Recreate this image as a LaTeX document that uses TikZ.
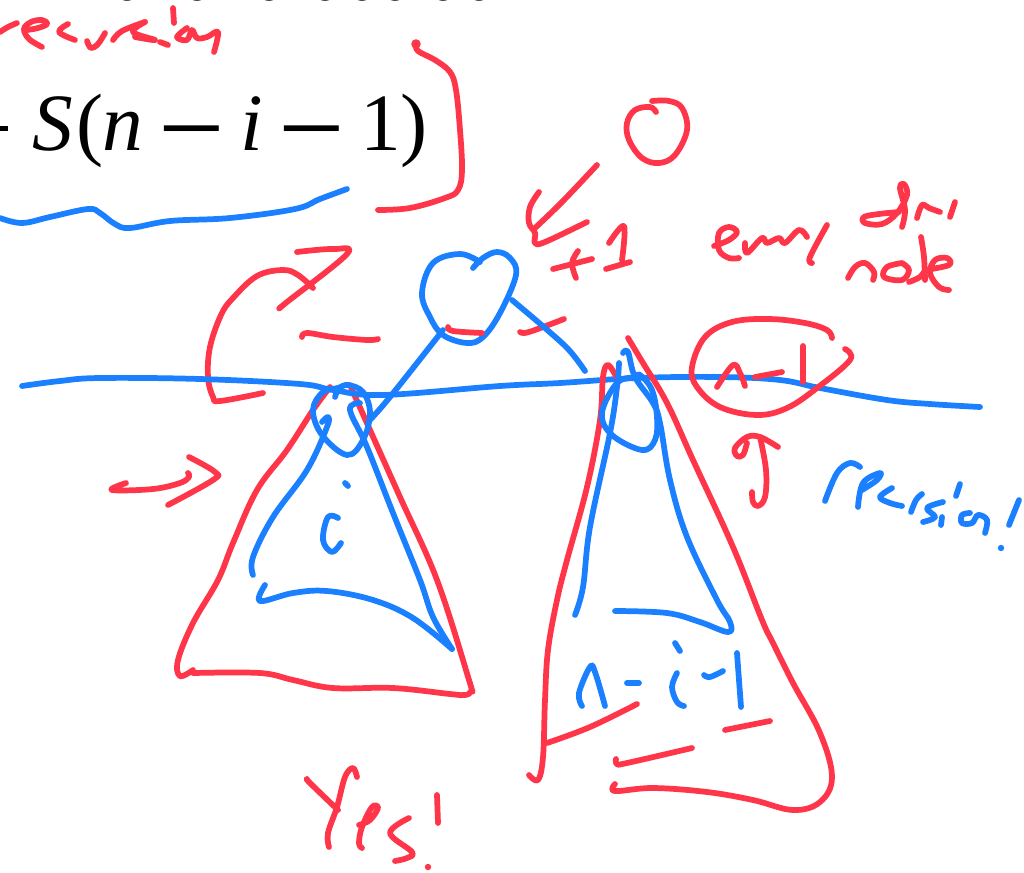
\documentclass[tikz,border=0pt]{standalone}
\usepackage{fontspec}
\setmainfont{Liberation Serif}
\definecolor{inkred}{HTML}{FF3549}
\definecolor{inkblue}{HTML}{1A80FF}
\tikzset{
  pen/.style={line width=4.3pt,line cap=round,line join=round},
  redink/.style={pen,draw=inkred},
  blueink/.style={pen,draw=inkblue},
  formula/.style={inner sep=0pt,font=\fontsize{61}{61}\selectfont,anchor=base west},
  cutmark/.style={fill=black!70},
}
\newcommand{\rs}[1]{\draw[redink] plot[smooth,tension=0.62] coordinates {#1};}
\newcommand{\bs}[1]{\draw[blueink] plot[smooth,tension=0.62] coordinates {#1};}
\newcommand{\widemin}{\scalebox{1.45}[1.4]{−}}
\begin{document}
\begin{tikzpicture}[x=0.75pt,y=-0.75pt]
\useasboundingbox (0,0) rectangle (1024,872);
\fill[white] (0,0) rectangle (1024,872);
% cut-off marks on the top edge
\foreach \mx in {127,197,269,325,362,395,443,479}
  \fill[cutmark] (\mx,-1) ellipse (5 and 2);
% formula
\fill[black] (0,125.5) rectangle (8,131);
\node[formula] (fS) at (32,150) {\textit{S}};
\node[formula] (fp) at (76,150) {(};
\node[formula] (fn) at (102,150) {\textit{n}};
\node[formula] (fm1) at (158,166) {\widemin};
\node[formula] (fi) at (240,150) {\textit{i}};
\node[formula] (fm2) at (278,166) {\widemin};
\node[formula] (f1) at (360,150) {1};
\node[formula] (fc) at (400,150) {)};
% "recursion"
\rs{(0,32)(8,27)(17,23)}
\rs{(27,30)(38,28)(47,24)(42,20)(31,22)(24,29)(29,39)(42,47)}
\rs{(68,24)(59,32)(75,40)}
\rs{(87,41)(91,48)(98,44)(105,33)}
\rs{(113,40)(122,31)(145,22)}
\rs{(145,22)(133,32)(155,40)(135,37)}
\rs{(160,42)(168,45)}
\rs{(173,8)(174,23)}
\rs{(187,28)(177,37)(187,40)(192,30)(197,38)(207,37)(218,32)(214,52)}
% bracket
\fill[inkred] (416,44) circle (4.8);
\rs{(416,44)(418,51)(435,60)(450,72)(456,90)(460,130)(462,170)(458,190)(445,198)(410,208)(378,210)}
% underbrace
\bs{(0,218)(22,223)(50,217)(88,209)(100,213)(115,224)(130,228)(170,221)(230,218)(295,209)(320,199)(347,189)}
% upper left curved arrow
\rs{(263,393)(220,401)(213,397)(208,377)(210,347)(221,315)(233,298)(257,276)(283,270)(298,275)(313,288)}
\rs{(297,252)(333,249)(347,254)(287,302)(280,308)}
\rs{(302,337)(307,333)(333,337)(367,340)(378,339)}
% left arrow
\rs{(126,483)(112,490)(153,489)(180,483)(189,477)(188,473)}
\rs{(189,457)(215,472)(213,480)(168,505)}
% left triangle red
\rs{(330,387)(313,410)(287,450)(257,490)(233,543)(218,580)(193,623)(178,660)(180,676)(193,670)}
\rs{(193,673)(260,673)(293,680)(333,688)(393,688)(450,694)(465,695)(471,691)(469,680)(437,580)(400,497)(370,430)(350,385)}
% parent heart
\bs{(473,268)(483,258)(497,252)(510,258)(516,275)(500,313)(483,337)(467,343)(443,335)(430,317)(422,293)(433,263)(460,254)(480,262)}
\rs{(448,327)(453,331)(482,333)}
\rs{(520,332)(529,332)(564,319)}
% horizontal line
\bs{(22,386)(60,381)(100,378)(200,379)(300,384)(333,390)(383,395)(500,386)(560,383)(637,378)(720,377)(780,380)(820,388)(887,400)(930,404)(980,407)}
% left child
\draw[blueink] plot[smooth cycle,tension=0.62] coordinates {(323,392)(313,410)(322,435)(347,455)(363,440)(370,413)(363,392)(348,385)(338,388)};
\bs{(338,388)(335,397)}
\bs{(322,422)(328,417)(327,427)(307,470)(273,517)(253,557)(253,575)}
\bs{(265,585)(260,601)(293,593)(327,591)(373,600)(413,618)(452,649)}
\bs{(360,403)(350,410)(367,447)(393,513)(420,580)(433,617)(452,649)}
\bs{(443,330)(390,397)(368,422)}
\bs{(338,518)(328,517)(323,540)(332,552)(341,543)}
\bs{(345,483)(348,486)}
\bs{(512,300)(545,328)(569,350)(585,371)}
% right triangle red
\rs{(617,378)(608,365)(603,377)(600,420)(587,487)(567,560)(557,600)(548,650)(545,700)(543,757)(538,780)(529,775)}
\rs{(547,743)(590,727)(637,704)}
\rs{(725,730)(770,721)}
\rs{(616,759)(617,764)(627,763)(692,748)}
\rs{(615,784)(615,791)(653,788)(707,792)(753,800)(793,810)(820,802)(832,777)(820,733)(793,683)(773,643)(762,620)(733,547)(693,460)(667,403)(643,363)(628,338)}
% right child
\draw[blueink] plot[smooth cycle,tension=0.62] coordinates {(635,377)(617,383)(602,413)(612,435)(642,450)(655,440)(657,417)(652,390)(640,375)};
\bs{(619,363)(617,387)(610,433)(590,527)(583,587)(575,615)}
\bs{(623,353)(628,352)(635,377)(653,403)(660,423)(670,480)(687,537)(717,600)(730,622)(728,632)(700,622)(667,613)(615,611)}
% n-i-1 blue
\bs{(582,706)(579,693)(590,667)(595,672)(605,706)}
\bs{(627,683)(639,683)}
\bs{(675,643)(680,651)}
\bs{(677,673)(672,687)(677,702)(684,706)}
\bs{(704,675)(710,677)(723,671)}
\bs{(737,653)(741,707)}
% Yes!
\rs{(307,779)(310,783)(338,810)}
\rs{(357,777)(353,768)(345,777)(337,807)(328,833)(329,847)}
\rs{(359,825)(370,820)(378,808)(372,807)(362,827)(359,843)(362,848)}
\rs{(409,818)(390,833)(412,852)(407,858)(395,861)}
\rs{(437,795)(438,823)}
\fill[inkred] (428,867) circle (3.2);
% top circle
\rs{(656,112)(650,107)(635,110)(627,123)(629,140)(642,158)(659,163)(675,155)(687,130)(682,108)(669,101)(652,101)}
% arrow down-left
\rs{(597,165)(562,202)(535,228)}
\rs{(539,192)(530,207)(529,223)(535,233)(535,243)(545,242)(587,222)}
% +1
\rs{(553,269)(592,259)}
\rs{(578,251)(572,263)(576,278)}
\rs{(609,243)(624,226)(622,260)}
\rs{(606,269)(630,262)}
% every
\rs{(714,246)(729,240)(737,232)(729,227)(719,233)(719,250)(729,258)(739,258)}
\rs{(745,243)(747,253)(762,238)(767,243)(779,238)(785,243)(799,230)(807,237)}
\rs{(827,225)(810,257)(812,263)}
% other
\rs{(899,212)(879,214)(864,217)(865,223)(882,224)(897,213)(907,195)(904,184)(900,188)(905,210)(902,227)}
\rs{(917,218)(922,205)(929,208)(940,212)}
\rs{(955,202)(950,217)}
% node
\rs{(848,278)(855,267)(865,263)(874,272)(873,280)}
\rs{(902,263)(887,267)(884,277)(902,280)(909,270)(902,263)}
\rs{(909,282)(920,277)(925,270)}
\rs{(921,237)(924,257)(925,280)}
\rs{(925,270)(949,265)(947,258)(935,260)(930,273)(939,287)(949,290)}
% ellipse
\rs{(832,338)(827,330)(805,323)(769,319)(732,322)(705,337)(692,367)(697,387)(720,407)(757,415)(787,408)(817,388)(850,360)(845,349)}
% n-1
\rs{(717,387)(733,365)(740,373)(745,386)}
\rs{(755,377)(782,372)}
\rs{(803,346)(803,382)}
% up arrow
\rs{(752,492)(753,502)(758,506)(765,497)(766,470)(760,437)}
\rs{(778,447)(760,437)(747,437)(735,448)(737,456)(743,455)(747,443)}
% recursion!
\bs{(825,501)(837,473)(850,463)(860,467)}
\bs{(858,507)(863,483)(880,473)(877,480)(862,490)}
\bs{(892,488)(880,497)(890,503)(902,506)}
\bs{(911,512)(916,500)(922,494)}
\bs{(943,502)(927,508)(935,517)(923,522)}
\bs{(942,517)(941,525)}
\bs{(960,484)(956,496)}
\bs{(970,513)(962,515)(962,523)(972,523)(978,515)(987,520)(985,533)}
\bs{(1019,500)(1009,525)}
\fill[inkblue] (1001,548) circle (3.2);
\end{tikzpicture}
\end{document}
